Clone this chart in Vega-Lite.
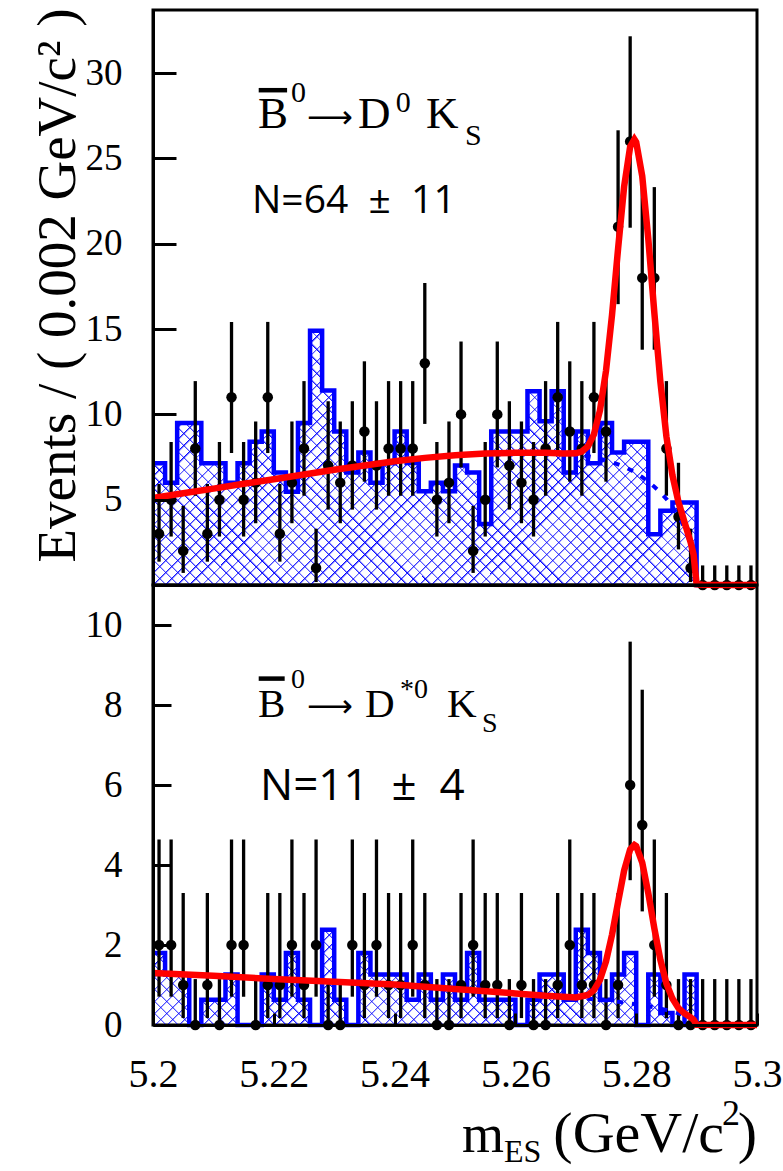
{
"$schema": "https://vega.github.io/schema/vega-lite/v6.json",
"background": "white",
"padding": {"left": 28, "top": 6, "right": 0, "bottom": 0},
"config": {"view": {"stroke": "black", "strokeWidth": 3}, "axis": {"grid": false, "labelColor": "black", "titleColor": "black", "tickColor": "black", "domainColor": "black"}},
"datasets": {
"top": [
{"c":5.201,"e":5.200,"n":3,"lo":1.367,"hi":5.918,"b":7.13},
{"c":5.203,"e":5.202,"n":5,"lo":2.840,"hi":8.382,"b":6.0},
{"c":5.205,"e":5.204,"n":2,"lo":0.708,"hi":4.638,"b":9.5},
{"c":5.207,"e":5.206,"n":8,"lo":5.232,"hi":11.95,"b":9.5},
{"c":5.209,"e":5.208,"n":3,"lo":1.367,"hi":5.918,"b":7.13},
{"c":5.211,"e":5.210,"n":5,"lo":2.840,"hi":8.382,"b":7.13},
{"c":5.213,"e":5.212,"n":11,"lo":7.734,"hi":15.42,"b":6.0},
{"c":5.215,"e":5.214,"n":5,"lo":2.840,"hi":8.382,"b":7.13},
{"c":5.217,"e":5.216,"n":6,"lo":3.620,"hi":9.584,"b":8.4},
{"c":5.219,"e":5.218,"n":11,"lo":7.734,"hi":15.42,"b":9.0},
{"c":5.221,"e":5.220,"n":3,"lo":1.367,"hi":5.918,"b":6.6},
{"c":5.223,"e":5.222,"n":6,"lo":3.620,"hi":9.584,"b":5.46},
{"c":5.225,"e":5.224,"n":8,"lo":5.232,"hi":11.95,"b":9.5},
{"c":5.227,"e":5.226,"n":1,"lo":0.173,"hi":3.300,"b":14.9},
{"c":5.229,"e":5.228,"n":7,"lo":4.419,"hi":10.77,"b":11.4},
{"c":5.231,"e":5.230,"n":6,"lo":3.620,"hi":9.584,"b":9.0},
{"c":5.233,"e":5.232,"n":7,"lo":4.419,"hi":10.77,"b":6.6},
{"c":5.235,"e":5.234,"n":9,"lo":6.057,"hi":13.11,"b":7.76},
{"c":5.237,"e":5.236,"n":7,"lo":4.419,"hi":10.77,"b":6.0},
{"c":5.239,"e":5.238,"n":8,"lo":5.232,"hi":11.95,"b":7.13},
{"c":5.241,"e":5.240,"n":8,"lo":5.232,"hi":11.95,"b":9.0},
{"c":5.243,"e":5.242,"n":8,"lo":5.232,"hi":11.95,"b":7.15},
{"c":5.245,"e":5.244,"n":13,"lo":9.441,"hi":17.70,"b":5.5},
{"c":5.247,"e":5.246,"n":5,"lo":2.840,"hi":8.382,"b":6.0},
{"c":5.249,"e":5.248,"n":6,"lo":3.620,"hi":9.584,"b":5.5},
{"c":5.251,"e":5.250,"n":10,"lo":6.891,"hi":14.27,"b":7.0},
{"c":5.253,"e":5.252,"n":2,"lo":0.708,"hi":4.638,"b":6.6},
{"c":5.255,"e":5.254,"n":5,"lo":2.840,"hi":8.382,"b":3.57},
{"c":5.257,"e":5.256,"n":10,"lo":6.891,"hi":14.27,"b":9.0},
{"c":5.259,"e":5.258,"n":7,"lo":4.419,"hi":10.77,"b":9.0},
{"c":5.261,"e":5.260,"n":6,"lo":3.620,"hi":9.584,"b":9.0},
{"c":5.263,"e":5.262,"n":5,"lo":2.840,"hi":8.382,"b":11.36},
{"c":5.265,"e":5.264,"n":8,"lo":5.232,"hi":11.95,"b":9.6},
{"c":5.267,"e":5.266,"n":11,"lo":7.734,"hi":15.42,"b":11.36},
{"c":5.269,"e":5.268,"n":9,"lo":6.057,"hi":13.11,"b":6.6},
{"c":5.271,"e":5.270,"n":8,"lo":5.232,"hi":11.95,"b":9.0},
{"c":5.273,"e":5.272,"n":11,"lo":7.734,"hi":15.42,"b":7.13},
{"c":5.275,"e":5.274,"n":9,"lo":6.057,"hi":13.11,"b":9.5},
{"c":5.277,"e":5.276,"n":21,"lo":16.46,"hi":26.65,"b":7.76},
{"c":5.279,"e":5.278,"n":26,"lo":20.94,"hi":32.16,"b":8.4},
{"c":5.281,"e":5.280,"n":18,"lo":13.79,"hi":23.32,"b":8.4},
{"c":5.283,"e":5.282,"n":18,"lo":13.79,"hi":23.32,"b":2.98},
{"c":5.285,"e":5.284,"n":8,"lo":5.232,"hi":11.95,"b":4.35},
{"c":5.287,"e":5.286,"n":4,"lo":2.086,"hi":7.163,"b":4.84},
{"c":5.289,"e":5.288,"n":1,"lo":0.173,"hi":3.300,"b":4.84},
{"c":5.291,"e":5.290,"n":0,"lo":0,"hi":1.148,"b":0},
{"c":5.293,"e":5.292,"n":0,"lo":0,"hi":1.148,"b":0},
{"c":5.295,"e":5.294,"n":0,"lo":0,"hi":1.148,"b":0},
{"c":5.297,"e":5.296,"n":0,"lo":0,"hi":1.148,"b":0},
{"c":5.299,"e":5.298,"n":0,"lo":0,"hi":1.148,"b":0}
],
"topfit": [
{"m":5.200,"tot":5.10,"bkg":5.10},{"m":5.205,"tot":5.38,"bkg":5.38},{"m":5.210,"tot":5.65,"bkg":5.65},
{"m":5.215,"tot":5.93,"bkg":5.93},{"m":5.220,"tot":6.20,"bkg":6.20},{"m":5.225,"tot":6.48,"bkg":6.48},
{"m":5.230,"tot":6.75,"bkg":6.75},{"m":5.235,"tot":7.00,"bkg":7.00},{"m":5.240,"tot":7.25,"bkg":7.25},
{"m":5.245,"tot":7.45,"bkg":7.45},{"m":5.250,"tot":7.60,"bkg":7.60},{"m":5.255,"tot":7.70,"bkg":7.70},
{"m":5.260,"tot":7.75,"bkg":7.75},{"m":5.265,"tot":7.75,"bkg":7.75},{"m":5.268,"tot":7.71,"bkg":7.70},
{"m":5.270,"tot":7.72,"bkg":7.65},{"m":5.271,"tot":7.82,"bkg":7.60},{"m":5.272,"tot":8.12,"bkg":7.55},
{"m":5.273,"tot":8.83,"bkg":7.48},{"m":5.274,"tot":10.23,"bkg":7.40},{"m":5.275,"tot":12.55,"bkg":7.30},
{"m":5.276,"tot":15.84,"bkg":7.20},{"m":5.277,"tot":19.71,"bkg":7.07},{"m":5.278,"tot":23.35,"bkg":6.93},
{"m":5.279,"tot":25.69,"bkg":6.75},{"m":5.2797,"tot":26.12,"bkg":6.62},{"m":5.280,"tot":25.95,"bkg":6.55},
{"m":5.281,"tot":23.96,"bkg":6.32},{"m":5.282,"tot":20.30,"bkg":6.06},{"m":5.283,"tot":15.97,"bkg":5.76},
{"m":5.284,"tot":11.93,"bkg":5.43},{"m":5.285,"tot":8.71,"bkg":5.04},{"m":5.286,"tot":6.43,"bkg":4.59},
{"m":5.287,"tot":4.86,"bkg":4.04},{"m":5.288,"tot":3.68,"bkg":3.36},{"m":5.289,"tot":2.52,"bkg":2.41},
{"m":5.2895,"tot":1.78,"bkg":1.72},{"m":5.290,"tot":0.04,"bkg":0},{"m":5.291,"tot":0.01,"bkg":null},
{"m":5.295,"tot":0,"bkg":null},{"m":5.300,"tot":0,"bkg":null}
],
"bot": [
{"c":5.201,"e":5.200,"n":2,"lo":0.708,"hi":4.638,"b":1.8},
{"c":5.203,"e":5.202,"n":2,"lo":0.708,"hi":4.638,"b":1.26},
{"c":5.205,"e":5.204,"n":1,"lo":0.173,"hi":3.300,"b":1.26},
{"c":5.207,"e":5.206,"n":0,"lo":0,"hi":1.148,"b":0},
{"c":5.209,"e":5.208,"n":1,"lo":0.173,"hi":3.300,"b":0.63},
{"c":5.211,"e":5.210,"n":0,"lo":0,"hi":1.148,"b":0.63},
{"c":5.213,"e":5.212,"n":2,"lo":0.708,"hi":4.638,"b":1.26},
{"c":5.215,"e":5.214,"n":2,"lo":0.708,"hi":4.638,"b":0},
{"c":5.217,"e":5.216,"n":0,"lo":0,"hi":1.148,"b":0},
{"c":5.219,"e":5.218,"n":1,"lo":0.173,"hi":3.300,"b":1.26},
{"c":5.221,"e":5.220,"n":1,"lo":0.173,"hi":3.300,"b":0.63},
{"c":5.223,"e":5.222,"n":2,"lo":0.708,"hi":4.638,"b":1.8},
{"c":5.225,"e":5.224,"n":1,"lo":0.173,"hi":3.300,"b":0.63},
{"c":5.227,"e":5.226,"n":2,"lo":0.708,"hi":4.638,"b":0},
{"c":5.229,"e":5.228,"n":0,"lo":0,"hi":1.148,"b":2.38},
{"c":5.231,"e":5.230,"n":0,"lo":0,"hi":1.148,"b":0.63},
{"c":5.233,"e":5.232,"n":2,"lo":0.708,"hi":4.638,"b":0},
{"c":5.235,"e":5.234,"n":1,"lo":0.173,"hi":3.300,"b":1.8},
{"c":5.237,"e":5.236,"n":2,"lo":0.708,"hi":4.638,"b":1.26},
{"c":5.239,"e":5.238,"n":1,"lo":0.173,"hi":3.300,"b":1.26},
{"c":5.241,"e":5.240,"n":1,"lo":0.173,"hi":3.300,"b":1.26},
{"c":5.243,"e":5.242,"n":2,"lo":0.708,"hi":4.638,"b":0.63},
{"c":5.245,"e":5.244,"n":1,"lo":0.173,"hi":3.300,"b":1.26},
{"c":5.247,"e":5.246,"n":0,"lo":0,"hi":1.148,"b":0.63},
{"c":5.249,"e":5.248,"n":0,"lo":0,"hi":1.148,"b":1.26},
{"c":5.251,"e":5.250,"n":1,"lo":0.173,"hi":3.300,"b":0.63},
{"c":5.253,"e":5.252,"n":2,"lo":0.708,"hi":4.638,"b":1.8},
{"c":5.255,"e":5.254,"n":1,"lo":0.173,"hi":3.300,"b":0.63},
{"c":5.257,"e":5.256,"n":1,"lo":0.173,"hi":3.300,"b":0.63},
{"c":5.259,"e":5.258,"n":0,"lo":0,"hi":1.148,"b":0.63},
{"c":5.261,"e":5.260,"n":1,"lo":0.173,"hi":3.300,"b":0},
{"c":5.263,"e":5.262,"n":0,"lo":0,"hi":1.148,"b":0.63},
{"c":5.265,"e":5.264,"n":0,"lo":0,"hi":1.148,"b":1.26},
{"c":5.267,"e":5.266,"n":1,"lo":0.173,"hi":3.300,"b":1.26},
{"c":5.269,"e":5.268,"n":2,"lo":0.708,"hi":4.638,"b":0.63},
{"c":5.271,"e":5.270,"n":1,"lo":0.173,"hi":3.300,"b":2.38},
{"c":5.273,"e":5.272,"n":1,"lo":0.173,"hi":3.300,"b":1.8},
{"c":5.275,"e":5.274,"n":0,"lo":0,"hi":1.148,"b":0.63},
{"c":5.277,"e":5.276,"n":1,"lo":0.173,"hi":3.300,"b":1.26},
{"c":5.279,"e":5.278,"n":6,"lo":3.620,"hi":9.584,"b":1.8},
{"c":5.281,"e":5.280,"n":5,"lo":2.840,"hi":8.382,"b":0},
{"c":5.283,"e":5.282,"n":2,"lo":0.708,"hi":4.638,"b":1.26},
{"c":5.285,"e":5.284,"n":1,"lo":0.173,"hi":3.300,"b":0.3},
{"c":5.287,"e":5.286,"n":0,"lo":0,"hi":1.148,"b":0},
{"c":5.289,"e":5.288,"n":0,"lo":0,"hi":1.148,"b":1.26},
{"c":5.291,"e":5.290,"n":0,"lo":0,"hi":1.148,"b":0},
{"c":5.293,"e":5.292,"n":0,"lo":0,"hi":1.148,"b":0},
{"c":5.295,"e":5.294,"n":0,"lo":0,"hi":1.148,"b":0},
{"c":5.297,"e":5.296,"n":0,"lo":0,"hi":1.148,"b":0},
{"c":5.299,"e":5.298,"n":0,"lo":0,"hi":1.148,"b":0}
],
"botfit": [
{"m":5.200,"tot":1.30,"bkg":1.30},{"m":5.210,"tot":1.23,"bkg":1.23},{"m":5.220,"tot":1.15,"bkg":1.15},
{"m":5.230,"tot":1.08,"bkg":1.08},{"m":5.240,"tot":1.01,"bkg":1.01},{"m":5.250,"tot":0.90,"bkg":0.90},
{"m":5.260,"tot":0.79,"bkg":0.79},{"m":5.265,"tot":0.73,"bkg":0.73},{"m":5.270,"tot":0.69,"bkg":0.68},
{"m":5.272,"tot":0.75,"bkg":0.655},{"m":5.273,"tot":0.87,"bkg":0.64},{"m":5.274,"tot":1.13,"bkg":0.63},
{"m":5.275,"tot":1.59,"bkg":0.615},{"m":5.276,"tot":2.26,"bkg":0.60},{"m":5.277,"tot":3.07,"bkg":0.58},
{"m":5.278,"tot":3.86,"bkg":0.56},{"m":5.279,"tot":4.39,"bkg":0.54},{"m":5.2797,"tot":4.50,"bkg":0.525},
{"m":5.280,"tot":4.47,"bkg":0.52},{"m":5.281,"tot":4.06,"bkg":0.495},{"m":5.282,"tot":3.30,"bkg":0.47},
{"m":5.283,"tot":2.42,"bkg":0.44},{"m":5.284,"tot":1.63,"bkg":0.41},{"m":5.285,"tot":1.04,"bkg":0.375},
{"m":5.286,"tot":0.66,"bkg":0.34},{"m":5.287,"tot":0.42,"bkg":0.29},{"m":5.288,"tot":0.29,"bkg":0.24},
{"m":5.289,"tot":0.19,"bkg":0.17},{"m":5.2895,"tot":0.13,"bkg":0.12},{"m":5.290,"tot":0.005,"bkg":0},
{"m":5.295,"tot":0,"bkg":null},{"m":5.300,"tot":0,"bkg":null}
],
"one": [{}]
},
"spacing": 0,
"bounds": "flush",
"resolve": {"scale": {"x": "independent", "y": "independent"}},
"vconcat": [
{
"width": 604, "height": 575,
"layer": [
{"data": {"name": "top"}, "mark": {"type": "area", "interpolate": "step-after", "color": {"gradient": "linear", "x1": 0, "y1": 0, "x2": 1.20687, "y2": 0.51822, "stops": [
{"offset":0,"color":"#00f"},{"offset":0.003,"color":"#00f0"},
{"offset":0.01429,"color":"#00f0"},{"offset":0.01429,"color":"#00f"},{"offset":0.01729,"color":"#00f0"},
{"offset":0.02857,"color":"#00f0"},{"offset":0.02857,"color":"#00f"},{"offset":0.03157,"color":"#00f0"},
{"offset":0.04286,"color":"#00f0"},{"offset":0.04286,"color":"#00f"},{"offset":0.04586,"color":"#00f0"},
{"offset":0.05714,"color":"#00f0"},{"offset":0.05714,"color":"#00f"},{"offset":0.06014,"color":"#00f0"},
{"offset":0.07143,"color":"#00f0"},{"offset":0.07143,"color":"#00f"},{"offset":0.07443,"color":"#00f0"},
{"offset":0.08571,"color":"#00f0"},{"offset":0.08571,"color":"#00f"},{"offset":0.08871,"color":"#00f0"},
{"offset":0.1,"color":"#00f0"},{"offset":0.1,"color":"#00f"},{"offset":0.103,"color":"#00f0"},
{"offset":0.11429,"color":"#00f0"},{"offset":0.11429,"color":"#00f"},{"offset":0.11729,"color":"#00f0"},
{"offset":0.12857,"color":"#00f0"},{"offset":0.12857,"color":"#00f"},{"offset":0.13157,"color":"#00f0"},
{"offset":0.14286,"color":"#00f0"},{"offset":0.14286,"color":"#00f"},{"offset":0.14586,"color":"#00f0"},
{"offset":0.15714,"color":"#00f0"},{"offset":0.15714,"color":"#00f"},{"offset":0.16014,"color":"#00f0"},
{"offset":0.17143,"color":"#00f0"},{"offset":0.17143,"color":"#00f"},{"offset":0.17443,"color":"#00f0"},
{"offset":0.18571,"color":"#00f0"},{"offset":0.18571,"color":"#00f"},{"offset":0.18871,"color":"#00f0"},
{"offset":0.2,"color":"#00f0"},{"offset":0.2,"color":"#00f"},{"offset":0.203,"color":"#00f0"},
{"offset":0.21429,"color":"#00f0"},{"offset":0.21429,"color":"#00f"},{"offset":0.21729,"color":"#00f0"},
{"offset":0.22857,"color":"#00f0"},{"offset":0.22857,"color":"#00f"},{"offset":0.23157,"color":"#00f0"},
{"offset":0.24286,"color":"#00f0"},{"offset":0.24286,"color":"#00f"},{"offset":0.24586,"color":"#00f0"},
{"offset":0.25714,"color":"#00f0"},{"offset":0.25714,"color":"#00f"},{"offset":0.26014,"color":"#00f0"},
{"offset":0.27143,"color":"#00f0"},{"offset":0.27143,"color":"#00f"},{"offset":0.27443,"color":"#00f0"},
{"offset":0.28571,"color":"#00f0"},{"offset":0.28571,"color":"#00f"},{"offset":0.28871,"color":"#00f0"},
{"offset":0.3,"color":"#00f0"},{"offset":0.3,"color":"#00f"},{"offset":0.303,"color":"#00f0"},
{"offset":0.31429,"color":"#00f0"},{"offset":0.31429,"color":"#00f"},{"offset":0.31729,"color":"#00f0"},
{"offset":0.32857,"color":"#00f0"},{"offset":0.32857,"color":"#00f"},{"offset":0.33157,"color":"#00f0"},
{"offset":0.34286,"color":"#00f0"},{"offset":0.34286,"color":"#00f"},{"offset":0.34586,"color":"#00f0"},
{"offset":0.35714,"color":"#00f0"},{"offset":0.35714,"color":"#00f"},{"offset":0.36014,"color":"#00f0"},
{"offset":0.37143,"color":"#00f0"},{"offset":0.37143,"color":"#00f"},{"offset":0.37443,"color":"#00f0"},
{"offset":0.38571,"color":"#00f0"},{"offset":0.38571,"color":"#00f"},{"offset":0.38871,"color":"#00f0"},
{"offset":0.4,"color":"#00f0"},{"offset":0.4,"color":"#00f"},{"offset":0.403,"color":"#00f0"},
{"offset":0.41429,"color":"#00f0"},{"offset":0.41429,"color":"#00f"},{"offset":0.41729,"color":"#00f0"},
{"offset":0.42857,"color":"#00f0"},{"offset":0.42857,"color":"#00f"},{"offset":0.43157,"color":"#00f0"},
{"offset":0.44286,"color":"#00f0"},{"offset":0.44286,"color":"#00f"},{"offset":0.44586,"color":"#00f0"},
{"offset":0.45714,"color":"#00f0"},{"offset":0.45714,"color":"#00f"},{"offset":0.46014,"color":"#00f0"},
{"offset":0.47143,"color":"#00f0"},{"offset":0.47143,"color":"#00f"},{"offset":0.47443,"color":"#00f0"},
{"offset":0.48571,"color":"#00f0"},{"offset":0.48571,"color":"#00f"},{"offset":0.48871,"color":"#00f0"},
{"offset":0.5,"color":"#00f0"},{"offset":0.5,"color":"#00f"},{"offset":0.503,"color":"#00f0"},
{"offset":0.51429,"color":"#00f0"},{"offset":0.51429,"color":"#00f"},{"offset":0.51729,"color":"#00f0"},
{"offset":0.52857,"color":"#00f0"},{"offset":0.52857,"color":"#00f"},{"offset":0.53157,"color":"#00f0"},
{"offset":0.54286,"color":"#00f0"},{"offset":0.54286,"color":"#00f"},{"offset":0.54586,"color":"#00f0"},
{"offset":0.55714,"color":"#00f0"},{"offset":0.55714,"color":"#00f"},{"offset":0.56014,"color":"#00f0"},
{"offset":0.57143,"color":"#00f0"},{"offset":0.57143,"color":"#00f"},{"offset":0.57443,"color":"#00f0"},
{"offset":0.58571,"color":"#00f0"},{"offset":0.58571,"color":"#00f"},{"offset":0.58871,"color":"#00f0"},
{"offset":0.6,"color":"#00f0"},{"offset":0.6,"color":"#00f"},{"offset":0.603,"color":"#00f0"},
{"offset":0.61429,"color":"#00f0"},{"offset":0.61429,"color":"#00f"},{"offset":0.61729,"color":"#00f0"},
{"offset":0.62857,"color":"#00f0"},{"offset":0.62857,"color":"#00f"},{"offset":0.63157,"color":"#00f0"},
{"offset":0.64286,"color":"#00f0"},{"offset":0.64286,"color":"#00f"},{"offset":0.64586,"color":"#00f0"},
{"offset":0.65714,"color":"#00f0"},{"offset":0.65714,"color":"#00f"},{"offset":0.66014,"color":"#00f0"},
{"offset":0.67143,"color":"#00f0"},{"offset":0.67143,"color":"#00f"},{"offset":0.67443,"color":"#00f0"},
{"offset":0.68571,"color":"#00f0"},{"offset":0.68571,"color":"#00f"},{"offset":0.68871,"color":"#00f0"},
{"offset":0.7,"color":"#00f0"},{"offset":0.7,"color":"#00f"},{"offset":0.703,"color":"#00f0"},
{"offset":0.71429,"color":"#00f0"},{"offset":0.71429,"color":"#00f"},{"offset":0.71729,"color":"#00f0"},
{"offset":0.72857,"color":"#00f0"},{"offset":0.72857,"color":"#00f"},{"offset":0.73157,"color":"#00f0"},
{"offset":0.74286,"color":"#00f0"},{"offset":0.74286,"color":"#00f"},{"offset":0.74586,"color":"#00f0"},
{"offset":0.75714,"color":"#00f0"},{"offset":0.75714,"color":"#00f"},{"offset":0.76014,"color":"#00f0"},
{"offset":0.77143,"color":"#00f0"},{"offset":0.77143,"color":"#00f"},{"offset":0.77443,"color":"#00f0"},
{"offset":0.78571,"color":"#00f0"},{"offset":0.78571,"color":"#00f"},{"offset":0.78871,"color":"#00f0"},
{"offset":0.8,"color":"#00f0"},{"offset":0.8,"color":"#00f"},{"offset":0.803,"color":"#00f0"},
{"offset":0.81429,"color":"#00f0"},{"offset":0.81429,"color":"#00f"},{"offset":0.81729,"color":"#00f0"},
{"offset":0.82857,"color":"#00f0"},{"offset":0.82857,"color":"#00f"},{"offset":0.83157,"color":"#00f0"},
{"offset":0.84286,"color":"#00f0"},{"offset":0.84286,"color":"#00f"},{"offset":0.84586,"color":"#00f0"},
{"offset":0.85714,"color":"#00f0"},{"offset":0.85714,"color":"#00f"},{"offset":0.86014,"color":"#00f0"},
{"offset":0.87143,"color":"#00f0"},{"offset":0.87143,"color":"#00f"},{"offset":0.87443,"color":"#00f0"},
{"offset":0.88571,"color":"#00f0"},{"offset":0.88571,"color":"#00f"},{"offset":0.88871,"color":"#00f0"},
{"offset":0.9,"color":"#00f0"},{"offset":0.9,"color":"#00f"},{"offset":0.903,"color":"#00f0"},
{"offset":0.91429,"color":"#00f0"},{"offset":0.91429,"color":"#00f"},{"offset":0.91729,"color":"#00f0"},
{"offset":0.92857,"color":"#00f0"},{"offset":0.92857,"color":"#00f"},{"offset":0.93157,"color":"#00f0"},
{"offset":0.94286,"color":"#00f0"},{"offset":0.94286,"color":"#00f"},{"offset":0.94586,"color":"#00f0"},
{"offset":0.95714,"color":"#00f0"},{"offset":0.95714,"color":"#00f"},{"offset":0.96014,"color":"#00f0"},
{"offset":0.97143,"color":"#00f0"},{"offset":0.97143,"color":"#00f"},{"offset":0.97443,"color":"#00f0"},
{"offset":0.98571,"color":"#00f0"},{"offset":0.98571,"color":"#00f"},{"offset":0.98871,"color":"#00f0"}
]}},
 "encoding": {
  "x": {"field": "e", "type": "quantitative", "scale": {"domain": [5.2, 5.3], "nice": false, "zero": false}, "axis": {"labels": false, "ticks": false, "domain": true, "domainWidth": 3, "title": null, "zindex": 1}},
  "y": {"field": "b", "type": "quantitative", "scale": {"domain": [0, 33.7], "nice": false}, "axis": {"values": [5, 10, 15, 20, 25, 30], "tickSize": -23, "tickWidth": 3, "domain": true, "domainWidth": 3, "zindex": 1, "labelFont": "Liberation Serif", "labelFontSize": 37, "labelPadding": 54, "title": "Events / ( 0.002 GeV/c² )", "titleFont": "Liberation Serif", "titleFontSize": 55, "titleFontWeight": "normal", "titleX": -79, "titleY": 275, "titleAngle": -90, "titleAlign": "center", "titleBaseline": "alphabetic"}}
 }},
{"data": {"name": "top"}, "mark": {"type": "area", "interpolate": "step-after", "color": {"gradient": "linear", "x1": 0, "y1": 1, "x2": 1.20687, "y2": 0.48178, "stops": [
{"offset":0,"color":"#00f"},{"offset":0.003,"color":"#00f0"},
{"offset":0.01429,"color":"#00f0"},{"offset":0.01429,"color":"#00f"},{"offset":0.01729,"color":"#00f0"},
{"offset":0.02857,"color":"#00f0"},{"offset":0.02857,"color":"#00f"},{"offset":0.03157,"color":"#00f0"},
{"offset":0.04286,"color":"#00f0"},{"offset":0.04286,"color":"#00f"},{"offset":0.04586,"color":"#00f0"},
{"offset":0.05714,"color":"#00f0"},{"offset":0.05714,"color":"#00f"},{"offset":0.06014,"color":"#00f0"},
{"offset":0.07143,"color":"#00f0"},{"offset":0.07143,"color":"#00f"},{"offset":0.07443,"color":"#00f0"},
{"offset":0.08571,"color":"#00f0"},{"offset":0.08571,"color":"#00f"},{"offset":0.08871,"color":"#00f0"},
{"offset":0.1,"color":"#00f0"},{"offset":0.1,"color":"#00f"},{"offset":0.103,"color":"#00f0"},
{"offset":0.11429,"color":"#00f0"},{"offset":0.11429,"color":"#00f"},{"offset":0.11729,"color":"#00f0"},
{"offset":0.12857,"color":"#00f0"},{"offset":0.12857,"color":"#00f"},{"offset":0.13157,"color":"#00f0"},
{"offset":0.14286,"color":"#00f0"},{"offset":0.14286,"color":"#00f"},{"offset":0.14586,"color":"#00f0"},
{"offset":0.15714,"color":"#00f0"},{"offset":0.15714,"color":"#00f"},{"offset":0.16014,"color":"#00f0"},
{"offset":0.17143,"color":"#00f0"},{"offset":0.17143,"color":"#00f"},{"offset":0.17443,"color":"#00f0"},
{"offset":0.18571,"color":"#00f0"},{"offset":0.18571,"color":"#00f"},{"offset":0.18871,"color":"#00f0"},
{"offset":0.2,"color":"#00f0"},{"offset":0.2,"color":"#00f"},{"offset":0.203,"color":"#00f0"},
{"offset":0.21429,"color":"#00f0"},{"offset":0.21429,"color":"#00f"},{"offset":0.21729,"color":"#00f0"},
{"offset":0.22857,"color":"#00f0"},{"offset":0.22857,"color":"#00f"},{"offset":0.23157,"color":"#00f0"},
{"offset":0.24286,"color":"#00f0"},{"offset":0.24286,"color":"#00f"},{"offset":0.24586,"color":"#00f0"},
{"offset":0.25714,"color":"#00f0"},{"offset":0.25714,"color":"#00f"},{"offset":0.26014,"color":"#00f0"},
{"offset":0.27143,"color":"#00f0"},{"offset":0.27143,"color":"#00f"},{"offset":0.27443,"color":"#00f0"},
{"offset":0.28571,"color":"#00f0"},{"offset":0.28571,"color":"#00f"},{"offset":0.28871,"color":"#00f0"},
{"offset":0.3,"color":"#00f0"},{"offset":0.3,"color":"#00f"},{"offset":0.303,"color":"#00f0"},
{"offset":0.31429,"color":"#00f0"},{"offset":0.31429,"color":"#00f"},{"offset":0.31729,"color":"#00f0"},
{"offset":0.32857,"color":"#00f0"},{"offset":0.32857,"color":"#00f"},{"offset":0.33157,"color":"#00f0"},
{"offset":0.34286,"color":"#00f0"},{"offset":0.34286,"color":"#00f"},{"offset":0.34586,"color":"#00f0"},
{"offset":0.35714,"color":"#00f0"},{"offset":0.35714,"color":"#00f"},{"offset":0.36014,"color":"#00f0"},
{"offset":0.37143,"color":"#00f0"},{"offset":0.37143,"color":"#00f"},{"offset":0.37443,"color":"#00f0"},
{"offset":0.38571,"color":"#00f0"},{"offset":0.38571,"color":"#00f"},{"offset":0.38871,"color":"#00f0"},
{"offset":0.4,"color":"#00f0"},{"offset":0.4,"color":"#00f"},{"offset":0.403,"color":"#00f0"},
{"offset":0.41429,"color":"#00f0"},{"offset":0.41429,"color":"#00f"},{"offset":0.41729,"color":"#00f0"},
{"offset":0.42857,"color":"#00f0"},{"offset":0.42857,"color":"#00f"},{"offset":0.43157,"color":"#00f0"},
{"offset":0.44286,"color":"#00f0"},{"offset":0.44286,"color":"#00f"},{"offset":0.44586,"color":"#00f0"},
{"offset":0.45714,"color":"#00f0"},{"offset":0.45714,"color":"#00f"},{"offset":0.46014,"color":"#00f0"},
{"offset":0.47143,"color":"#00f0"},{"offset":0.47143,"color":"#00f"},{"offset":0.47443,"color":"#00f0"},
{"offset":0.48571,"color":"#00f0"},{"offset":0.48571,"color":"#00f"},{"offset":0.48871,"color":"#00f0"},
{"offset":0.5,"color":"#00f0"},{"offset":0.5,"color":"#00f"},{"offset":0.503,"color":"#00f0"},
{"offset":0.51429,"color":"#00f0"},{"offset":0.51429,"color":"#00f"},{"offset":0.51729,"color":"#00f0"},
{"offset":0.52857,"color":"#00f0"},{"offset":0.52857,"color":"#00f"},{"offset":0.53157,"color":"#00f0"},
{"offset":0.54286,"color":"#00f0"},{"offset":0.54286,"color":"#00f"},{"offset":0.54586,"color":"#00f0"},
{"offset":0.55714,"color":"#00f0"},{"offset":0.55714,"color":"#00f"},{"offset":0.56014,"color":"#00f0"},
{"offset":0.57143,"color":"#00f0"},{"offset":0.57143,"color":"#00f"},{"offset":0.57443,"color":"#00f0"},
{"offset":0.58571,"color":"#00f0"},{"offset":0.58571,"color":"#00f"},{"offset":0.58871,"color":"#00f0"},
{"offset":0.6,"color":"#00f0"},{"offset":0.6,"color":"#00f"},{"offset":0.603,"color":"#00f0"},
{"offset":0.61429,"color":"#00f0"},{"offset":0.61429,"color":"#00f"},{"offset":0.61729,"color":"#00f0"},
{"offset":0.62857,"color":"#00f0"},{"offset":0.62857,"color":"#00f"},{"offset":0.63157,"color":"#00f0"},
{"offset":0.64286,"color":"#00f0"},{"offset":0.64286,"color":"#00f"},{"offset":0.64586,"color":"#00f0"},
{"offset":0.65714,"color":"#00f0"},{"offset":0.65714,"color":"#00f"},{"offset":0.66014,"color":"#00f0"},
{"offset":0.67143,"color":"#00f0"},{"offset":0.67143,"color":"#00f"},{"offset":0.67443,"color":"#00f0"},
{"offset":0.68571,"color":"#00f0"},{"offset":0.68571,"color":"#00f"},{"offset":0.68871,"color":"#00f0"},
{"offset":0.7,"color":"#00f0"},{"offset":0.7,"color":"#00f"},{"offset":0.703,"color":"#00f0"},
{"offset":0.71429,"color":"#00f0"},{"offset":0.71429,"color":"#00f"},{"offset":0.71729,"color":"#00f0"},
{"offset":0.72857,"color":"#00f0"},{"offset":0.72857,"color":"#00f"},{"offset":0.73157,"color":"#00f0"},
{"offset":0.74286,"color":"#00f0"},{"offset":0.74286,"color":"#00f"},{"offset":0.74586,"color":"#00f0"},
{"offset":0.75714,"color":"#00f0"},{"offset":0.75714,"color":"#00f"},{"offset":0.76014,"color":"#00f0"},
{"offset":0.77143,"color":"#00f0"},{"offset":0.77143,"color":"#00f"},{"offset":0.77443,"color":"#00f0"},
{"offset":0.78571,"color":"#00f0"},{"offset":0.78571,"color":"#00f"},{"offset":0.78871,"color":"#00f0"},
{"offset":0.8,"color":"#00f0"},{"offset":0.8,"color":"#00f"},{"offset":0.803,"color":"#00f0"},
{"offset":0.81429,"color":"#00f0"},{"offset":0.81429,"color":"#00f"},{"offset":0.81729,"color":"#00f0"},
{"offset":0.82857,"color":"#00f0"},{"offset":0.82857,"color":"#00f"},{"offset":0.83157,"color":"#00f0"},
{"offset":0.84286,"color":"#00f0"},{"offset":0.84286,"color":"#00f"},{"offset":0.84586,"color":"#00f0"},
{"offset":0.85714,"color":"#00f0"},{"offset":0.85714,"color":"#00f"},{"offset":0.86014,"color":"#00f0"},
{"offset":0.87143,"color":"#00f0"},{"offset":0.87143,"color":"#00f"},{"offset":0.87443,"color":"#00f0"},
{"offset":0.88571,"color":"#00f0"},{"offset":0.88571,"color":"#00f"},{"offset":0.88871,"color":"#00f0"},
{"offset":0.9,"color":"#00f0"},{"offset":0.9,"color":"#00f"},{"offset":0.903,"color":"#00f0"},
{"offset":0.91429,"color":"#00f0"},{"offset":0.91429,"color":"#00f"},{"offset":0.91729,"color":"#00f0"},
{"offset":0.92857,"color":"#00f0"},{"offset":0.92857,"color":"#00f"},{"offset":0.93157,"color":"#00f0"},
{"offset":0.94286,"color":"#00f0"},{"offset":0.94286,"color":"#00f"},{"offset":0.94586,"color":"#00f0"},
{"offset":0.95714,"color":"#00f0"},{"offset":0.95714,"color":"#00f"},{"offset":0.96014,"color":"#00f0"},
{"offset":0.97143,"color":"#00f0"},{"offset":0.97143,"color":"#00f"},{"offset":0.97443,"color":"#00f0"},
{"offset":0.98571,"color":"#00f0"},{"offset":0.98571,"color":"#00f"},{"offset":0.98871,"color":"#00f0"}
]}},
 "encoding": {"x": {"field": "e", "type": "quantitative"}, "y": {"field": "b", "type": "quantitative"}}},
{"data": {"name": "top"}, "mark": {"type": "line", "interpolate": "step-after", "color": "#0000ff", "strokeWidth": 4.5},
 "encoding": {"x": {"field": "e", "type": "quantitative"}, "y": {"field": "b", "type": "quantitative"}}},
{"data": {"name": "top"}, "mark": {"type": "rule", "color": "black", "strokeWidth": 3.3},
 "encoding": {"x": {"field": "c", "type": "quantitative"}, "y": {"field": "lo", "type": "quantitative"}, "y2": {"field": "hi"}}},
{"data": {"name": "top"}, "mark": {"type": "circle", "color": "black", "opacity": 1, "size": 110},
 "encoding": {"x": {"field": "c", "type": "quantitative"}, "y": {"field": "n", "type": "quantitative"}}},
{"data": {"name": "topfit"}, "mark": {"type": "line", "color": "#0000ff", "strokeWidth": 4, "strokeDash": [6, 9]},
 "encoding": {"x": {"field": "m", "type": "quantitative"}, "y": {"field": "bkg", "type": "quantitative"}}},
{"data": {"name": "topfit"}, "mark": {"type": "line", "color": "#ff0000", "strokeWidth": 6.5},
 "encoding": {"x": {"field": "m", "type": "quantitative"}, "y": {"field": "tot", "type": "quantitative"}}},
{"data": {"name": "one"}, "mark": {"type": "text", "font": "Liberation Serif", "fontSize": 45, "align": "left", "baseline": "alphabetic", "color": "black"},
 "encoding": {"x": {"datum": 5.21738}, "y": {"datum": 26.78}, "text": {"value": "B"}}},
{"data": {"name": "one"}, "mark": {"type": "rule", "color": "black", "strokeWidth": 4.5},
 "encoding": {"x": {"datum": 5.2175}, "x2": {"datum": 5.2222}, "y": {"datum": 29.0}}},
{"data": {"name": "one"}, "mark": {"type": "text", "font": "Liberation Serif", "fontSize": 30, "align": "left", "baseline": "alphabetic", "color": "black"},
 "encoding": {"x": {"datum": 5.22285}, "y": {"datum": 28.31}, "text": {"value": "0"}}},
{"data": {"name": "one"}, "mark": {"type": "text", "font": "DejaVu Sans", "fontSize": 32, "align": "left", "baseline": "alphabetic", "color": "black"},
 "encoding": {"x": {"datum": 5.22550}, "y": {"datum": 26.78}, "text": {"value": "⟶"}}},
{"data": {"name": "one"}, "mark": {"type": "text", "font": "Liberation Serif", "fontSize": 45, "align": "left", "baseline": "alphabetic", "color": "black"},
 "encoding": {"x": {"datum": 5.23394}, "y": {"datum": 26.78}, "text": {"value": "D"}}},
{"data": {"name": "one"}, "mark": {"type": "text", "font": "Liberation Serif", "fontSize": 30, "align": "left", "baseline": "alphabetic", "color": "black"},
 "encoding": {"x": {"datum": 5.24020}, "y": {"datum": 27.72}, "text": {"value": "0"}}},
{"data": {"name": "one"}, "mark": {"type": "text", "font": "Liberation Serif", "fontSize": 45, "align": "left", "baseline": "alphabetic", "color": "black"},
 "encoding": {"x": {"datum": 5.2452}, "y": {"datum": 26.78}, "text": {"value": "K"}}},
{"data": {"name": "one"}, "mark": {"type": "text", "font": "Liberation Serif", "fontSize": 30, "align": "left", "baseline": "alphabetic", "color": "black"},
 "encoding": {"x": {"datum": 5.25166}, "y": {"datum": 25.79}, "text": {"value": "S"}}},
{"data": {"name": "one"}, "mark": {"type": "text", "font": "Open Sans", "fontSize": 39, "align": "left", "baseline": "alphabetic", "color": "black"},
 "encoding": {"x": {"datum": 5.21639}, "y": {"datum": 21.8}, "text": {"value": "N=64\u00a0\u00a0±\u00a0\u00a011"}}}
]
},
{
"width": 604, "height": 440,
"layer": [
{"data": {"name": "bot"}, "mark": {"type": "area", "interpolate": "step-after", "color": {"gradient": "linear", "x1": 0, "y1": 0, "x2": 1.13155, "y2": 0.18197, "stops": [
{"offset":0,"color":"#00f"},{"offset":0.0037,"color":"#00f0"},
{"offset":0.01754,"color":"#00f0"},{"offset":0.01754,"color":"#00f"},{"offset":0.02124,"color":"#00f0"},
{"offset":0.03509,"color":"#00f0"},{"offset":0.03509,"color":"#00f"},{"offset":0.03879,"color":"#00f0"},
{"offset":0.05263,"color":"#00f0"},{"offset":0.05263,"color":"#00f"},{"offset":0.05633,"color":"#00f0"},
{"offset":0.07018,"color":"#00f0"},{"offset":0.07018,"color":"#00f"},{"offset":0.07388,"color":"#00f0"},
{"offset":0.08772,"color":"#00f0"},{"offset":0.08772,"color":"#00f"},{"offset":0.09142,"color":"#00f0"},
{"offset":0.10526,"color":"#00f0"},{"offset":0.10526,"color":"#00f"},{"offset":0.10896,"color":"#00f0"},
{"offset":0.12281,"color":"#00f0"},{"offset":0.12281,"color":"#00f"},{"offset":0.12651,"color":"#00f0"},
{"offset":0.14035,"color":"#00f0"},{"offset":0.14035,"color":"#00f"},{"offset":0.14405,"color":"#00f0"},
{"offset":0.15789,"color":"#00f0"},{"offset":0.15789,"color":"#00f"},{"offset":0.16159,"color":"#00f0"},
{"offset":0.17544,"color":"#00f0"},{"offset":0.17544,"color":"#00f"},{"offset":0.17914,"color":"#00f0"},
{"offset":0.19298,"color":"#00f0"},{"offset":0.19298,"color":"#00f"},{"offset":0.19668,"color":"#00f0"},
{"offset":0.21053,"color":"#00f0"},{"offset":0.21053,"color":"#00f"},{"offset":0.21423,"color":"#00f0"},
{"offset":0.22807,"color":"#00f0"},{"offset":0.22807,"color":"#00f"},{"offset":0.23177,"color":"#00f0"},
{"offset":0.24561,"color":"#00f0"},{"offset":0.24561,"color":"#00f"},{"offset":0.24931,"color":"#00f0"},
{"offset":0.26316,"color":"#00f0"},{"offset":0.26316,"color":"#00f"},{"offset":0.26686,"color":"#00f0"},
{"offset":0.2807,"color":"#00f0"},{"offset":0.2807,"color":"#00f"},{"offset":0.2844,"color":"#00f0"},
{"offset":0.29825,"color":"#00f0"},{"offset":0.29825,"color":"#00f"},{"offset":0.30195,"color":"#00f0"},
{"offset":0.31579,"color":"#00f0"},{"offset":0.31579,"color":"#00f"},{"offset":0.31949,"color":"#00f0"},
{"offset":0.33333,"color":"#00f0"},{"offset":0.33333,"color":"#00f"},{"offset":0.33703,"color":"#00f0"},
{"offset":0.35088,"color":"#00f0"},{"offset":0.35088,"color":"#00f"},{"offset":0.35458,"color":"#00f0"},
{"offset":0.36842,"color":"#00f0"},{"offset":0.36842,"color":"#00f"},{"offset":0.37212,"color":"#00f0"},
{"offset":0.38596,"color":"#00f0"},{"offset":0.38596,"color":"#00f"},{"offset":0.38966,"color":"#00f0"},
{"offset":0.40351,"color":"#00f0"},{"offset":0.40351,"color":"#00f"},{"offset":0.40721,"color":"#00f0"},
{"offset":0.42105,"color":"#00f0"},{"offset":0.42105,"color":"#00f"},{"offset":0.42475,"color":"#00f0"},
{"offset":0.4386,"color":"#00f0"},{"offset":0.4386,"color":"#00f"},{"offset":0.4423,"color":"#00f0"},
{"offset":0.45614,"color":"#00f0"},{"offset":0.45614,"color":"#00f"},{"offset":0.45984,"color":"#00f0"},
{"offset":0.47368,"color":"#00f0"},{"offset":0.47368,"color":"#00f"},{"offset":0.47738,"color":"#00f0"},
{"offset":0.49123,"color":"#00f0"},{"offset":0.49123,"color":"#00f"},{"offset":0.49493,"color":"#00f0"},
{"offset":0.50877,"color":"#00f0"},{"offset":0.50877,"color":"#00f"},{"offset":0.51247,"color":"#00f0"},
{"offset":0.52632,"color":"#00f0"},{"offset":0.52632,"color":"#00f"},{"offset":0.53002,"color":"#00f0"},
{"offset":0.54386,"color":"#00f0"},{"offset":0.54386,"color":"#00f"},{"offset":0.54756,"color":"#00f0"},
{"offset":0.5614,"color":"#00f0"},{"offset":0.5614,"color":"#00f"},{"offset":0.5651,"color":"#00f0"},
{"offset":0.57895,"color":"#00f0"},{"offset":0.57895,"color":"#00f"},{"offset":0.58265,"color":"#00f0"},
{"offset":0.59649,"color":"#00f0"},{"offset":0.59649,"color":"#00f"},{"offset":0.60019,"color":"#00f0"},
{"offset":0.61404,"color":"#00f0"},{"offset":0.61404,"color":"#00f"},{"offset":0.61774,"color":"#00f0"},
{"offset":0.63158,"color":"#00f0"},{"offset":0.63158,"color":"#00f"},{"offset":0.63528,"color":"#00f0"},
{"offset":0.64912,"color":"#00f0"},{"offset":0.64912,"color":"#00f"},{"offset":0.65282,"color":"#00f0"},
{"offset":0.66667,"color":"#00f0"},{"offset":0.66667,"color":"#00f"},{"offset":0.67037,"color":"#00f0"},
{"offset":0.68421,"color":"#00f0"},{"offset":0.68421,"color":"#00f"},{"offset":0.68791,"color":"#00f0"},
{"offset":0.70175,"color":"#00f0"},{"offset":0.70175,"color":"#00f"},{"offset":0.70545,"color":"#00f0"},
{"offset":0.7193,"color":"#00f0"},{"offset":0.7193,"color":"#00f"},{"offset":0.723,"color":"#00f0"},
{"offset":0.73684,"color":"#00f0"},{"offset":0.73684,"color":"#00f"},{"offset":0.74054,"color":"#00f0"},
{"offset":0.75439,"color":"#00f0"},{"offset":0.75439,"color":"#00f"},{"offset":0.75809,"color":"#00f0"},
{"offset":0.77193,"color":"#00f0"},{"offset":0.77193,"color":"#00f"},{"offset":0.77563,"color":"#00f0"},
{"offset":0.78947,"color":"#00f0"},{"offset":0.78947,"color":"#00f"},{"offset":0.79317,"color":"#00f0"},
{"offset":0.80702,"color":"#00f0"},{"offset":0.80702,"color":"#00f"},{"offset":0.81072,"color":"#00f0"},
{"offset":0.82456,"color":"#00f0"},{"offset":0.82456,"color":"#00f"},{"offset":0.82826,"color":"#00f0"},
{"offset":0.84211,"color":"#00f0"},{"offset":0.84211,"color":"#00f"},{"offset":0.84581,"color":"#00f0"},
{"offset":0.85965,"color":"#00f0"},{"offset":0.85965,"color":"#00f"},{"offset":0.86335,"color":"#00f0"},
{"offset":0.87719,"color":"#00f0"},{"offset":0.87719,"color":"#00f"},{"offset":0.88089,"color":"#00f0"},
{"offset":0.89474,"color":"#00f0"},{"offset":0.89474,"color":"#00f"},{"offset":0.89844,"color":"#00f0"},
{"offset":0.91228,"color":"#00f0"},{"offset":0.91228,"color":"#00f"},{"offset":0.91598,"color":"#00f0"},
{"offset":0.92982,"color":"#00f0"},{"offset":0.92982,"color":"#00f"},{"offset":0.93352,"color":"#00f0"},
{"offset":0.94737,"color":"#00f0"},{"offset":0.94737,"color":"#00f"},{"offset":0.95107,"color":"#00f0"},
{"offset":0.96491,"color":"#00f0"},{"offset":0.96491,"color":"#00f"},{"offset":0.96861,"color":"#00f0"},
{"offset":0.98246,"color":"#00f0"},{"offset":0.98246,"color":"#00f"},{"offset":0.98616,"color":"#00f0"}
]}},
 "encoding": {
  "x": {"field": "e", "type": "quantitative", "scale": {"domain": [5.2, 5.3], "nice": false, "zero": false}, "axis": {"values": [5.2, 5.22, 5.24, 5.26, 5.28, 5.3], "format": "~g", "tickSize": -12, "tickWidth": 3, "domain": true, "domainWidth": 3, "zindex": 1, "labelFont": "Liberation Serif", "labelFontSize": 40, "labelPadding": 41, "labelFlush": false, "title": null}},
  "y": {"field": "b", "type": "quantitative", "scale": {"domain": [0, 11], "nice": false}, "axis": {"values": [0, 2, 4, 6, 8, 10], "tickSize": -18, "tickWidth": 3, "domain": true, "domainWidth": 3, "zindex": 1, "labelFont": "Liberation Serif", "labelFontSize": 37, "labelPadding": 49, "title": null}}
 }},
{"data": {"name": "bot"}, "mark": {"type": "area", "interpolate": "step-after", "color": {"gradient": "linear", "x1": 0, "y1": 1, "x2": 1.13155, "y2": 0.81803, "stops": [
{"offset":0,"color":"#00f"},{"offset":0.0037,"color":"#00f0"},
{"offset":0.01754,"color":"#00f0"},{"offset":0.01754,"color":"#00f"},{"offset":0.02124,"color":"#00f0"},
{"offset":0.03509,"color":"#00f0"},{"offset":0.03509,"color":"#00f"},{"offset":0.03879,"color":"#00f0"},
{"offset":0.05263,"color":"#00f0"},{"offset":0.05263,"color":"#00f"},{"offset":0.05633,"color":"#00f0"},
{"offset":0.07018,"color":"#00f0"},{"offset":0.07018,"color":"#00f"},{"offset":0.07388,"color":"#00f0"},
{"offset":0.08772,"color":"#00f0"},{"offset":0.08772,"color":"#00f"},{"offset":0.09142,"color":"#00f0"},
{"offset":0.10526,"color":"#00f0"},{"offset":0.10526,"color":"#00f"},{"offset":0.10896,"color":"#00f0"},
{"offset":0.12281,"color":"#00f0"},{"offset":0.12281,"color":"#00f"},{"offset":0.12651,"color":"#00f0"},
{"offset":0.14035,"color":"#00f0"},{"offset":0.14035,"color":"#00f"},{"offset":0.14405,"color":"#00f0"},
{"offset":0.15789,"color":"#00f0"},{"offset":0.15789,"color":"#00f"},{"offset":0.16159,"color":"#00f0"},
{"offset":0.17544,"color":"#00f0"},{"offset":0.17544,"color":"#00f"},{"offset":0.17914,"color":"#00f0"},
{"offset":0.19298,"color":"#00f0"},{"offset":0.19298,"color":"#00f"},{"offset":0.19668,"color":"#00f0"},
{"offset":0.21053,"color":"#00f0"},{"offset":0.21053,"color":"#00f"},{"offset":0.21423,"color":"#00f0"},
{"offset":0.22807,"color":"#00f0"},{"offset":0.22807,"color":"#00f"},{"offset":0.23177,"color":"#00f0"},
{"offset":0.24561,"color":"#00f0"},{"offset":0.24561,"color":"#00f"},{"offset":0.24931,"color":"#00f0"},
{"offset":0.26316,"color":"#00f0"},{"offset":0.26316,"color":"#00f"},{"offset":0.26686,"color":"#00f0"},
{"offset":0.2807,"color":"#00f0"},{"offset":0.2807,"color":"#00f"},{"offset":0.2844,"color":"#00f0"},
{"offset":0.29825,"color":"#00f0"},{"offset":0.29825,"color":"#00f"},{"offset":0.30195,"color":"#00f0"},
{"offset":0.31579,"color":"#00f0"},{"offset":0.31579,"color":"#00f"},{"offset":0.31949,"color":"#00f0"},
{"offset":0.33333,"color":"#00f0"},{"offset":0.33333,"color":"#00f"},{"offset":0.33703,"color":"#00f0"},
{"offset":0.35088,"color":"#00f0"},{"offset":0.35088,"color":"#00f"},{"offset":0.35458,"color":"#00f0"},
{"offset":0.36842,"color":"#00f0"},{"offset":0.36842,"color":"#00f"},{"offset":0.37212,"color":"#00f0"},
{"offset":0.38596,"color":"#00f0"},{"offset":0.38596,"color":"#00f"},{"offset":0.38966,"color":"#00f0"},
{"offset":0.40351,"color":"#00f0"},{"offset":0.40351,"color":"#00f"},{"offset":0.40721,"color":"#00f0"},
{"offset":0.42105,"color":"#00f0"},{"offset":0.42105,"color":"#00f"},{"offset":0.42475,"color":"#00f0"},
{"offset":0.4386,"color":"#00f0"},{"offset":0.4386,"color":"#00f"},{"offset":0.4423,"color":"#00f0"},
{"offset":0.45614,"color":"#00f0"},{"offset":0.45614,"color":"#00f"},{"offset":0.45984,"color":"#00f0"},
{"offset":0.47368,"color":"#00f0"},{"offset":0.47368,"color":"#00f"},{"offset":0.47738,"color":"#00f0"},
{"offset":0.49123,"color":"#00f0"},{"offset":0.49123,"color":"#00f"},{"offset":0.49493,"color":"#00f0"},
{"offset":0.50877,"color":"#00f0"},{"offset":0.50877,"color":"#00f"},{"offset":0.51247,"color":"#00f0"},
{"offset":0.52632,"color":"#00f0"},{"offset":0.52632,"color":"#00f"},{"offset":0.53002,"color":"#00f0"},
{"offset":0.54386,"color":"#00f0"},{"offset":0.54386,"color":"#00f"},{"offset":0.54756,"color":"#00f0"},
{"offset":0.5614,"color":"#00f0"},{"offset":0.5614,"color":"#00f"},{"offset":0.5651,"color":"#00f0"},
{"offset":0.57895,"color":"#00f0"},{"offset":0.57895,"color":"#00f"},{"offset":0.58265,"color":"#00f0"},
{"offset":0.59649,"color":"#00f0"},{"offset":0.59649,"color":"#00f"},{"offset":0.60019,"color":"#00f0"},
{"offset":0.61404,"color":"#00f0"},{"offset":0.61404,"color":"#00f"},{"offset":0.61774,"color":"#00f0"},
{"offset":0.63158,"color":"#00f0"},{"offset":0.63158,"color":"#00f"},{"offset":0.63528,"color":"#00f0"},
{"offset":0.64912,"color":"#00f0"},{"offset":0.64912,"color":"#00f"},{"offset":0.65282,"color":"#00f0"},
{"offset":0.66667,"color":"#00f0"},{"offset":0.66667,"color":"#00f"},{"offset":0.67037,"color":"#00f0"},
{"offset":0.68421,"color":"#00f0"},{"offset":0.68421,"color":"#00f"},{"offset":0.68791,"color":"#00f0"},
{"offset":0.70175,"color":"#00f0"},{"offset":0.70175,"color":"#00f"},{"offset":0.70545,"color":"#00f0"},
{"offset":0.7193,"color":"#00f0"},{"offset":0.7193,"color":"#00f"},{"offset":0.723,"color":"#00f0"},
{"offset":0.73684,"color":"#00f0"},{"offset":0.73684,"color":"#00f"},{"offset":0.74054,"color":"#00f0"},
{"offset":0.75439,"color":"#00f0"},{"offset":0.75439,"color":"#00f"},{"offset":0.75809,"color":"#00f0"},
{"offset":0.77193,"color":"#00f0"},{"offset":0.77193,"color":"#00f"},{"offset":0.77563,"color":"#00f0"},
{"offset":0.78947,"color":"#00f0"},{"offset":0.78947,"color":"#00f"},{"offset":0.79317,"color":"#00f0"},
{"offset":0.80702,"color":"#00f0"},{"offset":0.80702,"color":"#00f"},{"offset":0.81072,"color":"#00f0"},
{"offset":0.82456,"color":"#00f0"},{"offset":0.82456,"color":"#00f"},{"offset":0.82826,"color":"#00f0"},
{"offset":0.84211,"color":"#00f0"},{"offset":0.84211,"color":"#00f"},{"offset":0.84581,"color":"#00f0"},
{"offset":0.85965,"color":"#00f0"},{"offset":0.85965,"color":"#00f"},{"offset":0.86335,"color":"#00f0"},
{"offset":0.87719,"color":"#00f0"},{"offset":0.87719,"color":"#00f"},{"offset":0.88089,"color":"#00f0"},
{"offset":0.89474,"color":"#00f0"},{"offset":0.89474,"color":"#00f"},{"offset":0.89844,"color":"#00f0"},
{"offset":0.91228,"color":"#00f0"},{"offset":0.91228,"color":"#00f"},{"offset":0.91598,"color":"#00f0"},
{"offset":0.92982,"color":"#00f0"},{"offset":0.92982,"color":"#00f"},{"offset":0.93352,"color":"#00f0"},
{"offset":0.94737,"color":"#00f0"},{"offset":0.94737,"color":"#00f"},{"offset":0.95107,"color":"#00f0"},
{"offset":0.96491,"color":"#00f0"},{"offset":0.96491,"color":"#00f"},{"offset":0.96861,"color":"#00f0"},
{"offset":0.98246,"color":"#00f0"},{"offset":0.98246,"color":"#00f"},{"offset":0.98616,"color":"#00f0"}
]}},
 "encoding": {"x": {"field": "e", "type": "quantitative"}, "y": {"field": "b", "type": "quantitative"}}},
{"data": {"name": "bot"}, "mark": {"type": "line", "interpolate": "step-after", "color": "#0000ff", "strokeWidth": 4.5},
 "encoding": {"x": {"field": "e", "type": "quantitative"}, "y": {"field": "b", "type": "quantitative"}}},
{"data": {"name": "bot"}, "mark": {"type": "rule", "color": "black", "strokeWidth": 3.3},
 "encoding": {"x": {"field": "c", "type": "quantitative"}, "y": {"field": "lo", "type": "quantitative"}, "y2": {"field": "hi"}}},
{"data": {"name": "bot"}, "mark": {"type": "circle", "color": "black", "opacity": 1, "size": 110},
 "encoding": {"x": {"field": "c", "type": "quantitative"}, "y": {"field": "n", "type": "quantitative"}}},
{"data": {"name": "botfit"}, "mark": {"type": "line", "color": "#0000ff", "strokeWidth": 4, "strokeDash": [6, 9]},
 "encoding": {"x": {"field": "m", "type": "quantitative"}, "y": {"field": "bkg", "type": "quantitative"}}},
{"data": {"name": "botfit"}, "mark": {"type": "line", "color": "#ff0000", "strokeWidth": 6.5},
 "encoding": {"x": {"field": "m", "type": "quantitative"}, "y": {"field": "tot", "type": "quantitative"}}},
{"data": {"name": "one"}, "mark": {"type": "text", "font": "Liberation Serif", "fontSize": 41, "align": "left", "baseline": "alphabetic", "color": "black"},
 "encoding": {"x": {"datum": 5.21738}, "y": {"datum": 7.7}, "text": {"value": "B"}}},
{"data": {"name": "one"}, "mark": {"type": "rule", "color": "black", "strokeWidth": 4.5},
 "encoding": {"x": {"datum": 5.2175}, "x2": {"datum": 5.2218}, "y": {"datum": 8.66}}},
{"data": {"name": "one"}, "mark": {"type": "text", "font": "Liberation Serif", "fontSize": 28, "align": "left", "baseline": "alphabetic", "color": "black"},
 "encoding": {"x": {"datum": 5.22285}, "y": {"datum": 8.425}, "text": {"value": "0"}}},
{"data": {"name": "one"}, "mark": {"type": "text", "font": "DejaVu Sans", "fontSize": 32, "align": "left", "baseline": "alphabetic", "color": "black"},
 "encoding": {"x": {"datum": 5.22550}, "y": {"datum": 7.7}, "text": {"value": "⟶"}}},
{"data": {"name": "one"}, "mark": {"type": "text", "font": "Liberation Serif", "fontSize": 41, "align": "left", "baseline": "alphabetic", "color": "black"},
 "encoding": {"x": {"datum": 5.2351}, "y": {"datum": 7.7}, "text": {"value": "D"}}},
{"data": {"name": "one"}, "mark": {"type": "text", "font": "Liberation Serif", "fontSize": 28, "align": "left", "baseline": "alphabetic", "color": "black"},
 "encoding": {"x": {"datum": 5.2409}, "y": {"datum": 8.175}, "text": {"value": "*0"}}},
{"data": {"name": "one"}, "mark": {"type": "text", "font": "Liberation Serif", "fontSize": 41, "align": "left", "baseline": "alphabetic", "color": "black"},
 "encoding": {"x": {"datum": 5.24868}, "y": {"datum": 7.7}, "text": {"value": "K"}}},
{"data": {"name": "one"}, "mark": {"type": "text", "font": "Liberation Serif", "fontSize": 28, "align": "left", "baseline": "alphabetic", "color": "black"},
 "encoding": {"x": {"datum": 5.25447}, "y": {"datum": 7.325}, "text": {"value": "S"}}},
{"data": {"name": "one"}, "mark": {"type": "text", "font": "Open Sans", "fontSize": 44, "align": "left", "baseline": "alphabetic", "color": "black"},
 "encoding": {"x": {"datum": 5.21772}, "y": {"datum": 5.625}, "text": {"value": "N=11\u00a0\u00a0±\u00a0\u00a04"}}},
{"data": {"name": "one"}, "mark": {"type": "text", "font": "Liberation Serif", "fontSize": 54, "align": "left", "baseline": "alphabetic", "color": "black"},
 "encoding": {"x": {"datum": 5.25116}, "y": {"datum": -3.175}, "text": {"value": "m"}}},
{"data": {"name": "one"}, "mark": {"type": "text", "font": "Liberation Serif", "fontSize": 32, "align": "left", "baseline": "alphabetic", "color": "black"},
 "encoding": {"x": {"datum": 5.25811}, "y": {"datum": -3.425}, "text": {"value": "ES"}}},
{"data": {"name": "one"}, "mark": {"type": "text", "font": "Liberation Serif", "fontSize": 58, "align": "right", "baseline": "alphabetic", "color": "black"},
 "encoding": {"x": {"datum": 5.29454}, "y": {"datum": -3.175}, "text": {"value": "(GeV/c"}}},
{"data": {"name": "one"}, "mark": {"type": "text", "font": "Liberation Serif", "fontSize": 36, "align": "left", "baseline": "alphabetic", "color": "black"},
 "encoding": {"x": {"datum": 5.29421}, "y": {"datum": -2.5}, "text": {"value": "2"}}},
{"data": {"name": "one"}, "mark": {"type": "text", "font": "Liberation Serif", "fontSize": 58, "align": "right", "baseline": "alphabetic", "color": "black"},
 "encoding": {"x": {"datum": 5.3}, "y": {"datum": -3.175}, "text": {"value": ")"}}}
]
}
]
}
